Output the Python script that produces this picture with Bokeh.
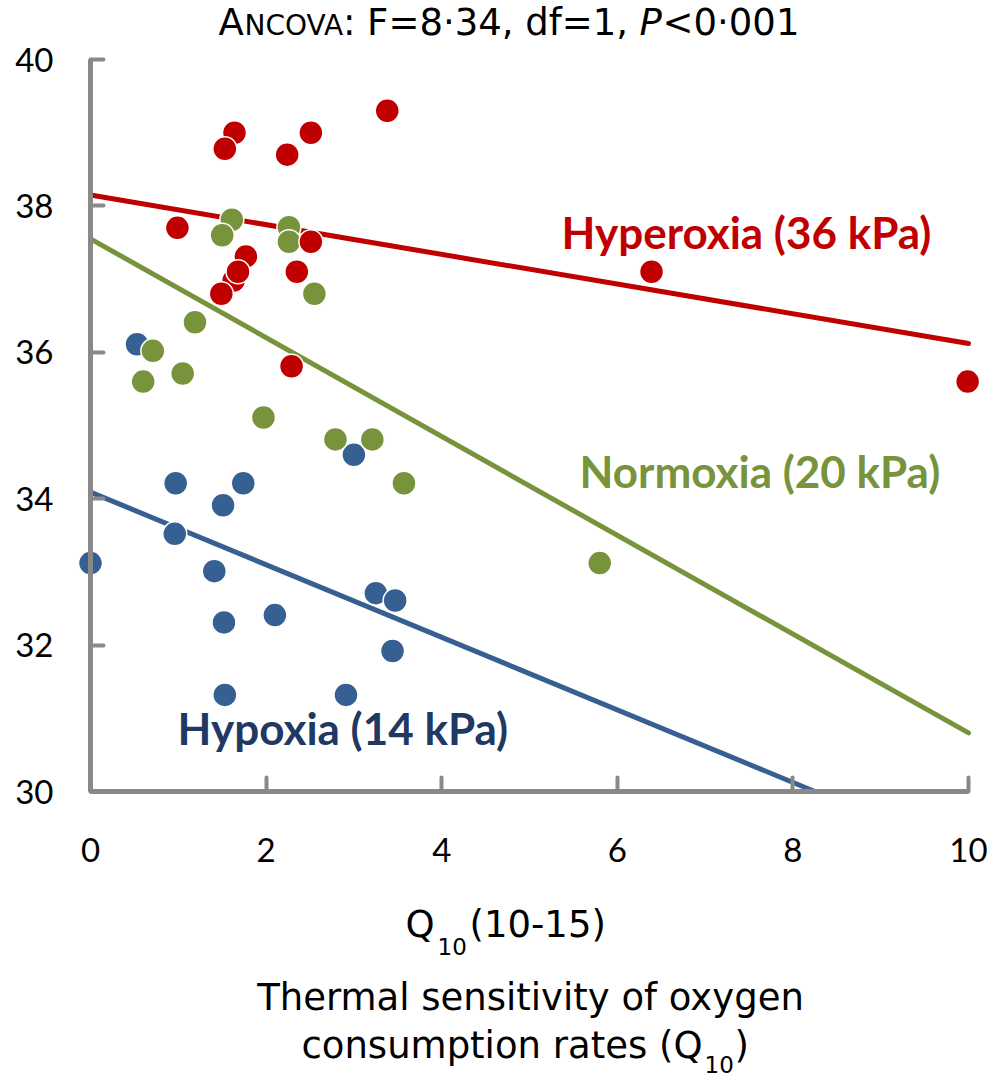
from bokeh.plotting import figure
from bokeh.models import Range1d, LinearAxis, FixedTicker, Label, ColumnDataSource
from bokeh.embed import file_html
from bokeh.resources import INLINE

# ---------------- data ----------------
hypoxia_q10 = [0.53, 3.00, 0.97, 1.74, 1.51, 0.96, 0.00, 1.41, 3.25, 3.47, 1.52, 2.10, 3.44, 1.53, 2.91]
hypoxia_temp = [36.11, 34.60, 34.21, 34.21, 33.91, 33.52, 33.12, 33.01, 32.71, 32.61, 32.31, 32.41, 31.92, 31.32, 31.32]

normoxia_q10 = [1.61, 1.50, 2.26, 2.26, 2.55, 1.19, 0.71, 0.60, 1.05, 1.97, 2.79, 3.21, 3.57, 5.80]
normoxia_temp = [37.81, 37.60, 37.71, 37.51, 36.80, 36.41, 36.02, 35.60, 35.71, 35.11, 34.81, 34.81, 34.21, 33.12]

hyperoxia_q10 = [3.38, 1.64, 1.53, 2.51, 2.24, 0.99, 2.51, 1.77, 1.63, 1.68, 2.35, 1.49, 2.29, 6.39, 9.99]
hyperoxia_temp = [39.30, 39.00, 38.78, 39.00, 38.70, 37.70, 37.51, 37.31, 36.98, 37.10, 37.10, 36.80, 35.81, 37.10, 35.60]

# regression lines (end points)
hypoxia_fit_x = [0.0, 8.25]
hypoxia_fit_y = [34.09, 30.00]
normoxia_fit_x = [0.0, 10.0]
normoxia_fit_y = [37.55, 30.80]
hyperoxia_fit_x = [0.0, 10.0]
hyperoxia_fit_y = [38.15, 36.12]

x_ticks = [0, 2, 4, 6, 8, 10]
y_ticks = [30, 32, 34, 36, 38, 40]

series_labels = ["Hypoxia (14 kPa)", "Normoxia (20 kPa)", "Hyperoxia (36 kPa)"]

# ---------------- style ----------------
RED = "#C00000"
GREEN = "#77933C"
BLUE = "#376092"
NAVY = "#1F3864"
GRAY = "#898989"
TICK_FONT = "Lato"
TITLE_FONT = "DejaVu Sans"
LABEL_FONT = "Lato"

W, H = 1002, 1079
X0_PX, X_UNIT = 90.0, 87.8      # pixel of x=0, pixels per x unit
Y40_PX, Y_UNIT = 59.0, 73.2     # pixel of y=40, pixels per y unit


def X(px):
    return (px - X0_PX) / X_UNIT


def Y(py):
    return 40 - (py - Y40_PX) / Y_UNIT


p = figure(width=W, height=H,
           x_range=Range1d(X(0), X(W)), y_range=Range1d(Y(H), Y(0)),
           output_backend="svg", toolbar_location=None,
           x_axis_type=None, y_axis_type=None,
           min_border_left=0, min_border_right=0,
           min_border_top=0, min_border_bottom=0)
p.outline_line_color = None
p.background_fill_color = "white"
p.border_fill_color = "white"

# axes
yaxis = LinearAxis(fixed_location=0, bounds=(30, 40), ticker=FixedTicker(ticks=y_ticks))
xaxis = LinearAxis(fixed_location=30, bounds=(0, 10), ticker=FixedTicker(ticks=x_ticks))
for ax in (xaxis, yaxis):
    ax.axis_line_color = GRAY
    ax.axis_line_width = 5
    ax.major_tick_line_color = GRAY
    ax.major_tick_line_width = 4
    ax.major_tick_line_cap = "round"
    ax.major_tick_out = 0
    ax.minor_tick_line_color = None
    ax.major_label_text_font = TICK_FONT
    ax.major_label_text_font_size = "33px"
    ax.major_label_text_color = "black"
yaxis.major_tick_in = 13
yaxis.major_label_standoff = 37
xaxis.major_tick_in = 14
xaxis.major_label_standoff = 46
p.add_layout(yaxis, "left")
p.add_layout(xaxis, "below")

# regression lines
p.line(hypoxia_fit_x, hypoxia_fit_y, line_color=BLUE, line_width=5, line_cap="round")
p.line(normoxia_fit_x, normoxia_fit_y, line_color=GREEN, line_width=5, line_cap="round")
p.line(hyperoxia_fit_x, hyperoxia_fit_y, line_color=RED, line_width=5, line_cap="round")

# points
for xs, ys, col in ((hypoxia_q10, hypoxia_temp, BLUE),
                    (normoxia_q10, normoxia_temp, GREEN),
                    (hyperoxia_q10, hyperoxia_temp, RED)):
    src = ColumnDataSource(dict(x=xs, y=ys))
    p.scatter("x", "y", source=src, marker="circle", size=24,
              fill_color=col, line_color="white", line_width=1.5)


def add_text(px, py, text, size, color="black", font=TITLE_FONT, style="normal",
             align="left", k=0.346):
    # (px, py): left/centre/right point of the text baseline in page pixels
    p.add_layout(Label(x=X(px), y=Y(py - k * size), text=text, text_color=color,
                       text_font=font, text_font_style=style,
                       text_font_size="%dpx" % size,
                       text_baseline="alphabetic", text_align=align))


# series labels (bold)
add_text(177, 744, series_labels[0], 44, NAVY, LABEL_FONT, "bold", k=0.372)
add_text(579, 487, series_labels[1], 44, GREEN, LABEL_FONT, "bold", k=0.372)
add_text(561, 248, series_labels[2], 44, RED, LABEL_FONT, "bold", k=0.372)

# title: ANCOVA (small caps), F=8·34, df=1, P<0·001
add_text(218, 35, "A", 37)
add_text(244, 35, "NCOVA", 28)
add_text(485, 35, ": F=8·34, df=1,", 37, align="center")
add_text(639, 35, "P", 37, style="italic")
add_text(662, 35, "<0·001", 37)

# x-axis title
add_text(405, 937, "Q", 37)
add_text(437, 954, "10", 23)
add_text(469, 937, "(10-15)", 37)
add_text(530, 1010, "Thermal sensitivity of oxygen", 37, align="center")
add_text(702, 1058, "consumption rates (Q", 37, align="right")
add_text(704, 1072, "10", 23)
add_text(734, 1058, ")", 37)

open("out.html", "w").write(file_html(p, INLINE))
